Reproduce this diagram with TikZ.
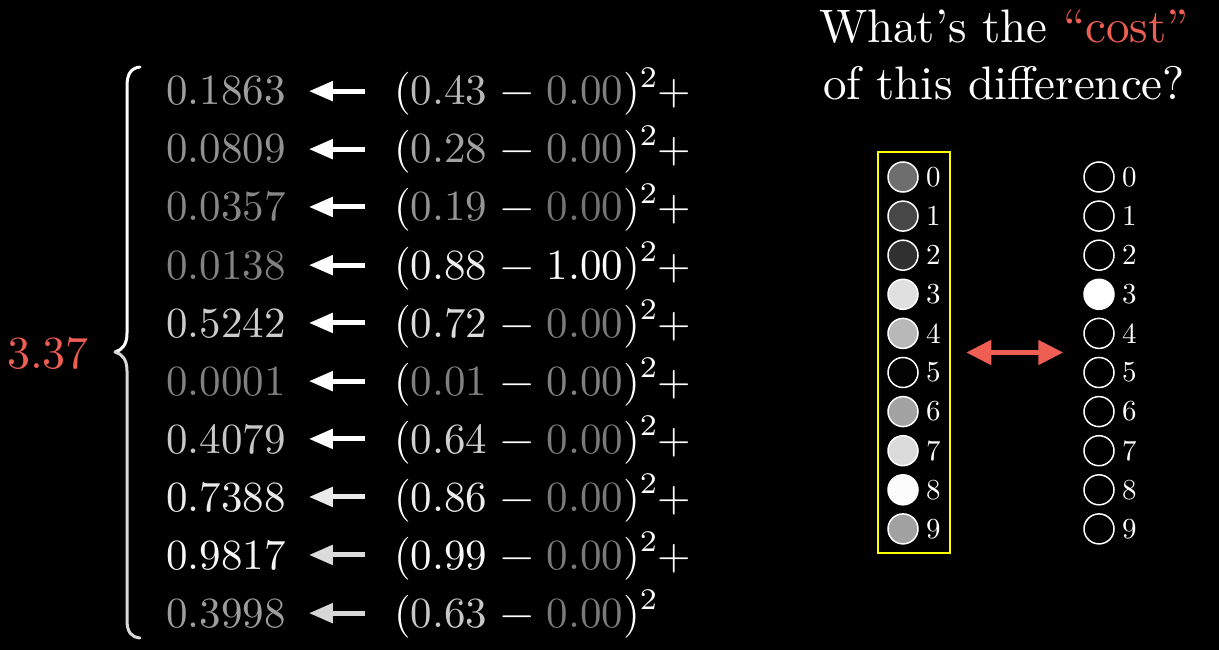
\documentclass[tikz,border=0pt]{standalone}
\usetikzlibrary{arrows.meta}
\definecolor{mred}{HTML}{EE5E52}
\definecolor{myel}{HTML}{FFFF00}
\font\fA="[lmroman10-regular]:mapping=tex-text" at 43pt
\font\fS="[lmroman7-regular]:mapping=tex-text" at 30pt
\font\fT="[lmroman10-regular]:mapping=tex-text" at 47pt
\font\fL="[lmroman10-regular]:mapping=tex-text" at 29pt
\font\fR="[lmroman10-regular]:mapping=tex-text" at 46pt
\newcommand\bsp{\hspace{0.3em}}
\newcommand\myrow[9]{%
  \pgfmathsetmacro\yy{105+58*#1}%
  \node[big, text=white!#3!black] (n#1) at (166,\yy) {0.#2};%
  \node[big, text=white] (e#1) at (394,\yy) {(\textcolor{white!#5!black}{#4}\bsp−\bsp\textcolor{white!#7!black}{#6})\raisebox{0.4em}{\fS 2}\hspace{1pt}#9};%
  \draw[arr, draw=white!#8!black] ([xshift=79pt]n#1.east) -- ([xshift=23pt]n#1.east);%
}
\begin{document}
\begin{tikzpicture}[x=1pt,y=-1pt,
  big/.style={font=\fA, inner sep=0pt, anchor=base west},
  arr/.style={line width=5pt, -{Triangle[length=24pt,width=19pt]}},
  circ/.style={circle, draw=white, line width=1.5pt, minimum size=30pt, inner sep=0pt},
  lab/.style={font=\fL, text=white, inner sep=0pt, anchor=west},
  brace/.style={line width=3pt, line cap=round}]
\fill[black] (0,0) rectangle (1219,650);
\useasboundingbox (0,0) rectangle (1219,650);

% rows
\myrow{0}{1863}{62}{0.43}{72}{0.00}{50}{100}{+}
\myrow{1}{0809}{57}{0.28}{64}{0.00}{50}{100}{+}
\myrow{2}{0357}{53}{0.19}{58}{0.00}{45}{100}{+}
\myrow{3}{0138}{51}{0.88}{94}{1.00}{100}{100}{+}
\myrow{4}{5242}{80}{0.72}{86}{0.00}{48}{100}{+}
\myrow{5}{0001}{50}{0.01}{50}{0.00}{50}{100}{+}
\myrow{6}{4079}{78}{0.64}{82}{0.00}{48}{100}{+}
\myrow{7}{7388}{92}{0.86}{93}{0.00}{48}{92}{+}
\myrow{8}{9817}{97}{0.99}{98}{0.00}{48}{86}{+}
\myrow{9}{3998}{62}{0.63}{78}{0.00}{48}{84}{}

% brace
\draw[brace, white] (140,67) .. controls (131,68) and (127,74) .. (127,86) -- (127,333)
  .. controls (127,345) and (122,350) .. (115,352);
\draw[brace, white!85!black] (115,352) .. controls (122,354) and (127,359) .. (127,371)
  -- (127,620) .. controls (127,632) and (131,637) .. (140,638);

% total
\node[font=\fR, text=mred, inner sep=0pt, anchor=base west] (tot) at (7,368) {3.37};

% title
\node[font=\fT, text=white, inner sep=0pt, anchor=base] (t1) at (1004,43) {What’s the \textcolor{mred}{“cost”}};
\node[font=\fT, text=white, inner sep=0pt, anchor=base] (t2) at (1004,100) {of this difference?};

% yellow box
\node[draw=myel, line width=2.5pt, minimum width=72pt, minimum height=401pt, inner sep=0pt] (box) at (914,352.5) {};

% left circles
\foreach \k/\g in {0/43,1/28,2/19,3/88,4/72,5/1,6/64,7/86,8/99,9/63} {
  \node[circ, fill=white!\g!black] (l\k) at (903,{177+39.1*\k}) {};
  \node[lab] (ll\k) at (926,{177+39.1*\k}) {\k};
}
% right circles
\foreach \k/\g in {0/0,1/0,2/0,3/100,4/0,5/0,6/0,7/0,8/0,9/0} {
  \node[circ, fill=white!\g!black] (r\k) at (1099,{177+39.1*\k}) {};
  \node[lab] (rl\k) at (1122,{177+39.1*\k}) {\k};
}

% double arrow
\coordinate (ae) at (box.east -| r0.west);
\draw[line width=5pt, mred, {Triangle[length=25pt,width=24pt]}-{Triangle[length=25pt,width=24pt]}]
  ([xshift=15pt]box.east) -- ([xshift=-20pt]ae);
\end{tikzpicture}
\end{document}
